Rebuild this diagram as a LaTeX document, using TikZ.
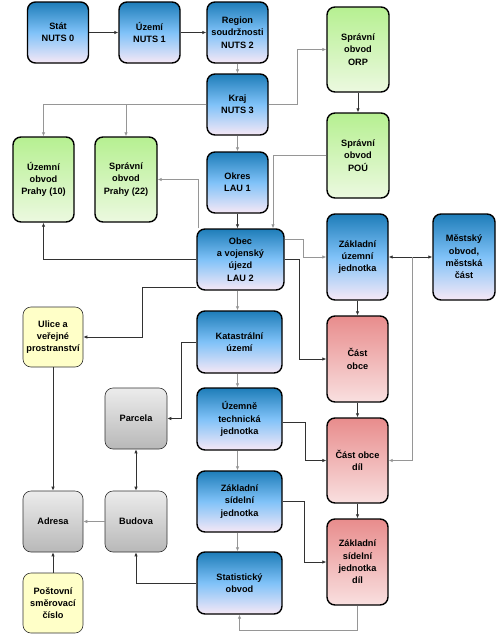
\documentclass[tikz,border=0pt]{standalone}
\usepackage{fontspec}
\setmainfont{Liberation Sans}
\usetikzlibrary{arrows.meta,calc}
\definecolor{bltop}{RGB}{30,125,185}
\definecolor{blmid}{RGB}{128,194,248}
\definecolor{blbot}{RGB}{246,232,246}
\definecolor{grtop}{RGB}{182,240,145}
\definecolor{grbot}{RGB}{236,249,224}
\definecolor{rdtop}{RGB}{232,140,140}
\definecolor{rdbot}{RGB}{249,224,224}
\definecolor{gytop}{RGB}{236,236,236}
\definecolor{gybot}{RGB}{184,184,184}
\definecolor{ylfill}{RGB}{255,255,200}
\definecolor{lnd}{RGB}{50,50,50}
\definecolor{lng}{RGB}{150,150,150}
\tikzset{
  box/.style={rounded corners=8pt, align=center, inner sep=1pt,
    font=\bfseries\fontsize{9.2}{12.3}\selectfont, text=black},
  bluebox/.style={box, draw=black, line width=1.4pt, minimum width=61pt, minimum height=61pt,
    top color=bltop, bottom color=blbot, middle color=blmid},
  greenbox/.style={box, draw=black, line width=1.4pt, minimum width=62pt, minimum height=85pt,
    top color=grtop, bottom color=grbot},
  redbox/.style={box, draw=black, line width=1.4pt, minimum width=61pt, minimum height=86pt,
    top color=rdtop, bottom color=rdbot},
  graybox/.style={box, draw=lnd, line width=0.6pt, minimum width=62pt, minimum height=61pt,
    top color=gytop, bottom color=gybot},
  yellowbox/.style={box, draw=lnd, line width=0.6pt, minimum width=60pt, minimum height=60pt,
    fill=ylfill},
  ar/.style={draw=lnd, line width=0.8pt, -{Latex[length=4pt,width=3.5pt]}},
  ar2/.style={draw=lnd, line width=0.8pt, {Latex[length=4pt,width=3.5pt]}-{Latex[length=4pt,width=3.5pt]}},
  gl/.style={draw=lng},
}
\begin{document}
\begin{tikzpicture}[x=1pt,y=-1pt]
\useasboundingbox (0,0) rectangle (500,637);
\fill[white] (0,0) rectangle (500,637);

% nodes (coordinates only, drawn later) -- use path with nodes
\path
  node[bluebox] (stat) at (58,32.5) {Stát\\NUTS 0}
  node[bluebox] (uzemi) at (149.5,32.5) {Území\\NUTS 1}
  node[bluebox] (region) at (237.5,32.5) {Region\\soudržnosti\\NUTS 2}
  node[bluebox] (kraj) at (237.5,104.5) {Kraj\\NUTS 3}
  node[bluebox] (okres) at (237.5,182.5) {Okres\\LAU 1}
  node[bluebox, minimum width=87pt] (obec) at (240.5,259.5) {Obec\\a vojenský\\újezd\\LAU 2}
  node[bluebox, minimum width=85pt, minimum height=62pt] (kat) at (239.5,342) {Katastrální\\území}
  node[bluebox, minimum width=85pt, minimum height=62pt] (utj) at (239.5,419) {Územně\\technická\\jednotka}
  node[bluebox, minimum width=85pt] (zsj) at (239.5,501.5) {Základní\\sídelní\\jednotka}
  node[bluebox, minimum width=85pt, minimum height=62pt] (stob) at (239.5,583) {Statistický\\obvod}
  node[greenbox] (orp) at (358,49.5) {Správní\\obvod\\ORP}
  node[greenbox] (pou) at (358,155.5) {Správní\\obvod\\POÚ}
  node[bluebox, minimum height=86pt] (zuj) at (357.5,257) {Základní\\územní\\jednotka}
  node[redbox] (cobce) at (357.5,359) {Část\\obce}
  node[redbox, minimum height=85pt] (cobcedil) at (357.5,460.5) {Část obce\\díl}
  node[redbox] (zsjdil) at (357.5,562) {Základní\\sídelní\\jednotka\\díl}
  node[bluebox, minimum width=62pt, minimum height=86pt] (mestsky) at (464,257) {Městský\\obvod,\\městská\\část}
  node[greenbox, minimum width=61pt] (prahy10) at (43.5,179.5) {Územní\\obvod\\Prahy (10)}
  node[greenbox] (prahy22) at (126,179.5) {Správní\\obvod\\Prahy (22)}
  node[yellowbox] (ulice) at (53,337) {Ulice a\\veřejné\\prostranství}
  node[graybox] (parcela) at (136,418.5) {Parcela}
  node[graybox, minimum width=60pt] (adresa) at (53,521.5) {Adresa}
  node[graybox] (budova) at (136,521.5) {Budova}
  node[yellowbox] (psc) at (53,603) {Poštovní\\směrovací\\číslo};

% connectors (drawn on top; start/end at node borders)
\draw[ar] (stat) -- (uzemi);
\draw[ar] (uzemi) -- (region);
\draw[ar,gl] (region) -- (kraj);
\draw[ar,gl] (kraj) -- (okres);
\draw[ar,gl] (kraj.west) -| (prahy10.north);
\draw[ar,gl] (kraj.west) -| (prahy22.north);
\draw[ar,gl] (kraj.east) -- ++(29,0) |- (orp.west);
\draw[ar] (orp) -- (pou);
\draw[ar,gl] (pou.west) -| ([xshift=32.5pt]obec.north);
\draw[ar] (okres.south) -- (okres.south |- obec.north);
\draw[ar,gl] (obec.north west -| prahy22.east) ++(41,0) |- (prahy22.east);
\draw[ar] (obec.west) -| (prahy10.south);
\draw[ar] ([yshift=-27.5pt]obec.west) -- ++(-54,0) |- (ulice.east);
\draw[ar,gl] (okres.south |- obec.south) -- (okres.south |- kat.north);
\draw[ar,gl] ([yshift=20.5pt]obec.east) -- ++(19,0) |- (zuj.west);
\draw[ar] (obec.east) -- ++(15,0) |- (cobce.west);
\draw[ar] (zuj) -- (cobce);
\draw[ar2] (zuj.east) -- (mestsky.west);
\draw[ar,gl] ($(zuj.east)!0.533!(mestsky.west)$) |- (cobcedil.east);
\draw[ar] (cobce) -- (cobcedil);
\draw[ar] (cobcedil) -- (zsjdil);
\draw[ar] (kat.west) -- ++(-15,0) |- (parcela.east);
\draw[ar,gl] (okres.south |- kat.south) -- (okres.south |- utj.north);
\draw[ar] ([yshift=-3pt]utj.east) -- ++(23,0) |- (cobcedil.west);
\draw[ar,gl] (okres.south |- utj.south) -- (okres.south |- zsj.north);
\draw[ar] (zsj.east) -- ++(22,0) |- (zsjdil.west);
\draw[ar,gl] (okres.south |- zsj.south) -- (okres.south |- stob.north);
\draw[ar,gl] (zsjdil.south) -- ++(0,25) -| (stob.south);
\draw[ar] (stob.west) -| (budova.south);
\draw[ar,gl] (budova) -- (adresa);
\draw[ar2] (parcela) -- (budova);
\draw[ar] (ulice) -- (adresa);
\draw[ar] (psc) -- (adresa);
\end{tikzpicture}
\end{document}
